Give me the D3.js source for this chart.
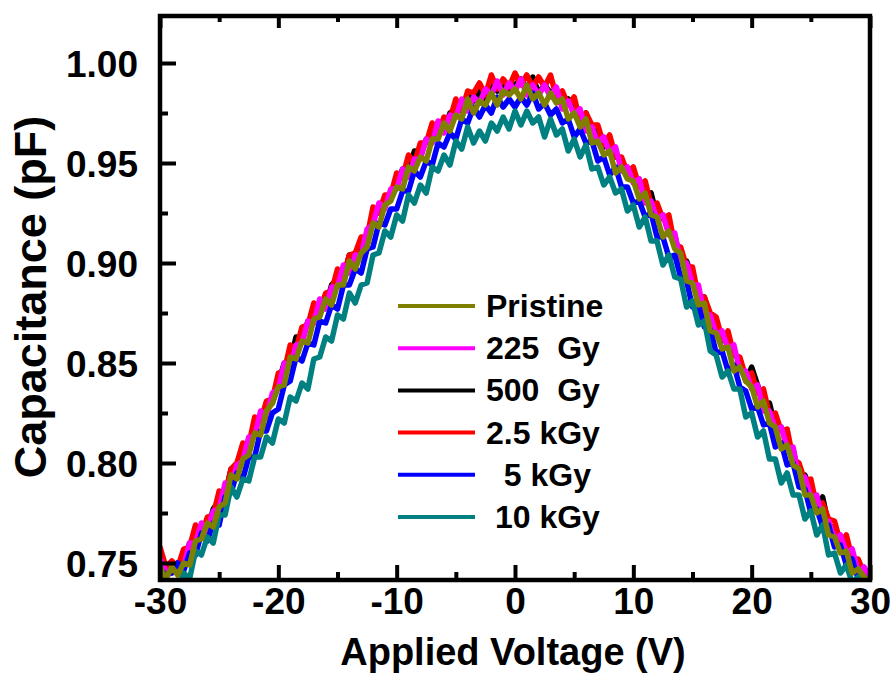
<!DOCTYPE html>
<html><head><meta charset="utf-8">
<script src="https://cdn.jsdelivr.net/npm/d3@7"></script>
<style>
body{margin:0;background:#fff}
text{font-family:"Liberation Sans",Arial,sans-serif;font-weight:bold;fill:#000}
</style>
</head><body><svg id="c" width="891" height="675"></svg>
<script>
// ---------- data ----------
const voltage = [
-30,-29.5,-29,-28.5,-28,-27.5,-27,-26.5,-26,-25.5,
-25,-24.5,-24,-23.5,-23,-22.5,-22,-21.5,-21,-20.5,
-20,-19.5,-19,-18.5,-18,-17.5,-17,-16.5,-16,-15.5,
-15,-14.5,-14,-13.5,-13,-12.5,-12,-11.5,-11,-10.5,
-10,-9.5,-9,-8.5,-8,-7.5,-7,-6.5,-6,-5.5,
-5,-4.5,-4,-3.5,-3,-2.5,-2,-1.5,-1,-0.5,
0,0.5,1,1.5,2,2.5,3,3.5,4,4.5,
5,5.5,6,6.5,7,7.5,8,8.5,9,9.5,
10,10.5,11,11.5,12,12.5,13,13.5,14,14.5,
15,15.5,16,16.5,17,17.5,18,18.5,19,19.5,
20,20.5,21,21.5,22,22.5,23,23.5,24,24.5,
25,25.5,26,26.5,27,27.5,28,28.5,29,29.5,
30];

const pristine = [
.748,.742,.748,.744,.750,.749,.761,.762,.770,.768,
.778,.780,.794,.792,.802,.804,.815,.814,.826,.830,
.838,.839,.853,.852,.861,.860,.872,.873,.882,.879,
.889,.889,.901,.897,.905,.908,.920,.918,.929,.931,
.938,.937,.948,.946,.953,.951,.962,.962,.970,.966,
.974,.972,.982,.975,.981,.979,.985,.979,.986,.984,
.987,.982,.989,.982,.985,.979,.985,.980,.982,.972,
.975,.968,.972,.960,.961,.954,.956,.945,.948,.942,
.941,.932,.935,.924,.923,.913,.916,.907,.905,.891,
.890,.879,.880,.866,.865,.857,.858,.846,.848,.841,
.838,.828,.831,.820,.818,.807,.809,.799,.797,.784,
.784,.775,.777,.764,.763,.755,.756,.745,.747,.743,
.741];

const gy225 = [
.752,.746,.745,.749,.748,.760,.760,.770,.766,.776,
.777,.790,.788,.799,.801,.813,.813,.826,.823,.835,
.837,.850,.848,.859,.860,.871,.870,.882,.877,.888,
.888,.899,.895,.904,.904,.917,.919,.930,.927,.937,
.937,.947,.943,.952,.952,.962,.960,.971,.965,.974,
.973,.982,.976,.983,.980,.987,.984,.991,.984,.990,
.986,.992,.984,.989,.984,.989,.983,.988,.977,.981,
.974,.977,.966,.968,.960,.963,.955,.958,.946,.948,
.940,.942,.930,.931,.922,.924,.914,.915,.900,.900,
.889,.889,.874,.874,.864,.866,.857,.859,.846,.846,
.837,.839,.826,.826,.817,.818,.807,.808,.792,.793,
.783,.784,.771,.771,.762,.764,.755,.757,.745,.748,
.743];

const gy500 = [
.754,.746,.746,.750,.750,.760,.761,.769,.766,.777,
.781,.784,.797,.797,.807,.808,.819,.821,.830,.830,
.840,.850,.851,.863,.861,.871,.872,.881,.878,.889,
.892,.893,.904,.902,.910,.912,.924,.925,.933,.932,
.940,.947,.946,.956,.953,.962,.962,.970,.966,.975,
.977,.976,.985,.981,.986,.982,.989,.986,.990,.985,
.989,.992,.987,.993,.985,.989,.985,.987,.978,.982,
.978,.971,.975,.966,.966,.958,.960,.953,.952,.943,
.943,.942,.933,.935,.923,.924,.916,.914,.901,.901,
.893,.883,.883,.872,.870,.861,.862,.854,.852,.841,
.848,.839,.829,.830,.818,.818,.809,.807,.793,.794,
.787,.778,.783,.769,.768,.759,.760,.752,.751,.743,
.744];

const kgy2_5 = [
.758,.748,.751,.748,.757,.758,.769,.764,.773,.774,
.786,.784,.797,.800,.810,.809,.823,.821,.831,.832,
.845,.846,.859,.857,.868,.869,.880,.876,.885,.886,
.897,.893,.904,.905,.913,.913,.928,.925,.934,.934,
.945,.943,.954,.950,.960,.960,.970,.965,.973,.972,
.982,.976,.986,.985,.990,.984,.994,.987,.992,.988,
.995,.989,.994,.988,.993,.988,.994,.983,.986,.979,
.983,.971,.975,.969,.969,.959,.964,.953,.953,.945,
.948,.938,.941,.929,.930,.922,.924,.909,.908,.898,
.898,.883,.883,.875,.873,.862,.866,.854,.853,.843,
.845,.835,.837,.824,.825,.816,.817,.802,.800,.791,
.792,.778,.780,.772,.771,.760,.764,.752,.752,.745,
.746];

const kgy5 = [
.747,.744,.745,.750,.746,.755,.754,.765,.761,.770,
.769,.783,.785,.795,.792,.803,.803,.816,.816,.825,
.827,.839,.841,.853,.851,.860,.859,.871,.870,.879,
.877,.889,.889,.897,.895,.907,.908,.920,.919,.927,
.927,.936,.936,.946,.943,.951,.949,.960,.958,.965,
.962,.972,.970,.978,.973,.979,.975,.983,.978,.982,
.978,.983,.979,.985,.977,.980,.974,.977,.970,.972,
.963,.967,.960,.961,.951,.953,.944,.948,.938,.938,
.930,.931,.923,.925,.913,.913,.903,.904,.893,.891,
.878,.879,.868,.867,.855,.856,.846,.849,.838,.836,
.827,.828,.819,.820,.808,.810,.799,.800,.788,.787,
.775,.777,.768,.769,.758,.759,.749,.752,.742,.743,
.741];

const kgy10 = [
.740,.732,.741,.736,.745,.742,.756,.754,.763,.760,
.774,.774,.788,.783,.792,.791,.803,.803,.813,.810,
.822,.820,.833,.831,.840,.837,.852,.853,.863,.861,
.874,.872,.885,.880,.889,.890,.904,.905,.916,.913,
.924,.921,.934,.930,.939,.935,.948,.946,.954,.949,
.961,.957,.968,.960,.966,.961,.970,.966,.973,.967,
.976,.969,.976,.970,.973,.963,.972,.964,.967,.956,
.962,.953,.959,.947,.948,.939,.943,.935,.937,.926,
.929,.918,.923,.911,.911,.899,.904,.893,.892,.878,
.881,.869,.871,.856,.854,.843,.846,.837,.837,.823,
.825,.813,.816,.802,.802,.790,.795,.784,.784,.772,
.776,.764,.769,.754,.755,.745,.749,.740,.743,.733,
.735];

const seriesNames  = ["Pristine", "225  Gy", "500  Gy", "2.5 kGy", "  5 kGy", " 10 kGy"];
const seriesValues = [pristine, gy225, gy500, kgy2_5, kgy5, kgy10];
const seriesColors = ["#808000", "#ff00ff", "#000000", "#ff0000", "#0000ff", "#008080"];
const drawOrder    = [2, 3, 1, 4, 5, 0];

const xTicks = [-30, -20, -10, 0, 10, 20, 30];
const xMinor = [-25, -15, -5, 5, 15, 25];
const yTicks = [0.75, 0.80, 0.85, 0.90, 0.95, 1.00];
const yMinor = [0.775, 0.825, 0.875, 0.925, 0.975];
const xDomain = [-30, 30];
const yDomain = [0.7415, 1.0235];

// ---------- chart ----------
const X0 = 160, X1 = 870, Y0 = 16, Y1 = 580;
const svg = d3.select("#c");
const x = d3.scaleLinear().domain(xDomain).range([X0, X1]);
const y = d3.scaleLinear().domain(yDomain).range([Y1, Y0]);

svg.append("defs").append("clipPath").attr("id", "clip")
  .append("rect").attr("x", X0).attr("y", Y0).attr("width", X1 - X0).attr("height", Y1 - Y0);

const line = d3.line().x((d, i) => x(voltage[i])).y(d => y(d));
const g = svg.append("g").attr("clip-path", "url(#clip)");
drawOrder.forEach(k => {
  g.append("path").datum(seriesValues[k])
    .attr("d", line).attr("fill", "none")
    .attr("stroke", seriesColors[k]).attr("stroke-width", 5.5)
    .attr("stroke-linejoin", "round").attr("stroke-linecap", "round");
});

function styleAxis(sel) {
  sel.select(".domain").remove();
  sel.selectAll(".tick line").attr("stroke", "#000").attr("stroke-width", 4);
  sel.selectAll(".tick text").style("font-size", "37px").attr("fill", "#000");
}
const fmtX = d => String(d);   // plain hyphen-minus like the original

// bottom
svg.append("g").attr("transform", `translate(0,${Y1})`)
  .call(d3.axisBottom(x).tickValues(xTicks).tickSize(-15).tickPadding(8).tickFormat(fmtX))
  .call(styleAxis);
svg.append("g").attr("transform", `translate(0,${Y1})`)
  .call(d3.axisBottom(x).tickValues(xMinor).tickSize(-8).tickFormat(""))
  .call(styleAxis);
// top
svg.append("g").attr("transform", `translate(0,${Y0})`)
  .call(d3.axisTop(x).tickValues(xTicks).tickSize(-12).tickFormat(""))
  .call(styleAxis);
svg.append("g").attr("transform", `translate(0,${Y0})`)
  .call(d3.axisTop(x).tickValues(xMinor).tickSize(-6).tickFormat(""))
  .call(styleAxis);
// left
const leftAxis = svg.append("g").attr("transform", `translate(${X0},0)`)
  .call(d3.axisLeft(y).tickValues(yTicks).tickSize(-16).tickPadding(22).tickFormat(d3.format(".2f")))
  .call(styleAxis);
leftAxis.selectAll(".tick text").attr("dy", "0.36em");
svg.append("g").attr("transform", `translate(${X0},0)`)
  .call(d3.axisLeft(y).tickValues(yMinor).tickSize(-8).tickFormat(""))
  .call(styleAxis);

// frame
svg.append("rect").attr("x", X0).attr("y", Y0).attr("width", X1 - X0).attr("height", Y1 - Y0)
  .attr("fill", "none").attr("stroke", "#000").attr("stroke-width", 4.5);

// axis titles
svg.append("text").attr("x", 513).attr("y", 665).attr("text-anchor", "middle")
  .style("font-size", "38px").text("Applied Voltage (V)");
svg.append("text").attr("transform", "translate(46,297) rotate(-90)").attr("text-anchor", "middle")
  .style("font-size", "45px").text("Capacitance (pF)");

// legend
const leg = svg.append("g");
seriesNames.forEach((name, i) => {
  const yy = 306 + i * 42.2;
  leg.append("line").attr("x1", 398).attr("x2", 475).attr("y1", yy).attr("y2", yy)
    .attr("stroke", seriesColors[i]).attr("stroke-width", 4);
  leg.append("text").attr("x", 486).attr("y", yy + 11).style("white-space", "pre")
    .style("font-size", "32px").text(name);
});
</script>
</body></html>
